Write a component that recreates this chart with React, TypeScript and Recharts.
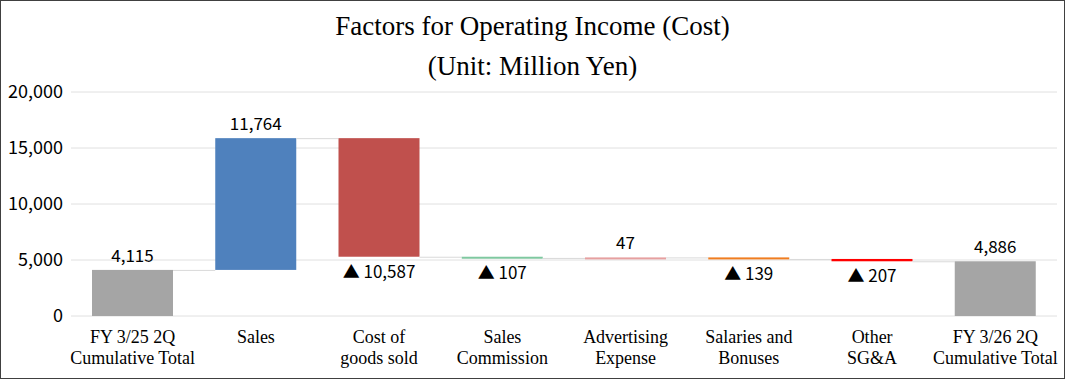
import { Bar, BarChart, CartesianGrid, XAxis, YAxis } from "recharts"

const categories = [
  ["FY 3/25 2Q", "Cumulative Total"],
  ["Sales"],
  ["Cost of", "goods sold"],
  ["Sales", "Commission"],
  ["Advertising", "Expense"],
  ["Salaries and", "Bonuses"],
  ["Other", "SG&A"],
  ["FY 3/26 2Q", "Cumulative Total"],
]
const amounts = [4115, 11764, -10587, -107, 47, -139, -207, 4886]
const isTotal = [true, false, false, false, false, false, false, true]
const barColors = [
  "#A5A5A5",
  "#4F81BD",
  "#C0504D",
  "#7FC8A0",
  "#E6A0A0",
  "#F07D20",
  "#FF0000",
  "#A5A5A5",
]
const yTicks = [0, 5000, 10000, 15000, 20000]

const W = 1063
const H = 377
const margin = { top: 91, right: 7, bottom: 6, left: 8 }
const Y_AXIS_W = 62
const BAND = (W - margin.left - Y_AXIS_W - margin.right) / categories.length

let running = 0
const data = amounts.map((v, i) => {
  let low = 0
  let high = v
  if (isTotal[i]) {
    running = v
  } else {
    const start = running
    running = start + v
    low = Math.min(start, running)
    high = Math.max(start, running)
  }
  return { name: categories[i].join(" "), range: [low, high], amount: v, total: isTotal[i] }
})

const fmt = (n: number) => n.toLocaleString("en-US")

const labelFont = "'Noto Sans CJK JP', 'Liberation Sans', sans-serif"
const serif = "'Liberation Serif', 'Times New Roman', serif"

const WaterfallBar = (props: any) => {
  const { x, y, width, height, index } = props
  const top = Math.min(y, y + height)
  const h = Math.max(Math.abs(height), 2)
  const bottom = top + Math.abs(height)
  const amount = amounts[index]
  const endY = amount >= 0 ? top : bottom
  const last = index === amounts.length - 1
  return (
    <g>
      <rect x={x} y={top} width={width} height={h} fill={barColors[index]} />
      {!last && (
        <line
          x1={x + width}
          x2={x + BAND}
          y1={endY + 0.5}
          y2={endY + 0.5}
          stroke="#D9D9D9"
          strokeWidth={1}
        />
      )}
      {amount >= 0 ? (
        <text
          x={x + width / 2}
          y={top - 8}
          textAnchor="middle"
          fontFamily={labelFont}
          fontSize={17}
          fill="#000"
        >
          {fmt(amount)}
        </text>
      ) : (
        <text
          x={x + width / 2}
          y={bottom + 21}
          textAnchor="middle"
          fontFamily={labelFont}
          fontSize={17}
          fill="#000"
        >
          {"▲ " + fmt(-amount)}
        </text>
      )}
    </g>
  )
}

const CategoryTick = (props: any) => {
  const { x, y, index } = props
  const lines = categories[index] || []
  return (
    <text x={x} y={y} textAnchor="middle" fontFamily={serif} fontSize={18} fill="#000">
      {lines.map((line, i) => (
        <tspan key={i} x={x} dy={i === 0 ? 19 : 21}>
          {line}
        </tspan>
      ))}
    </text>
  )
}

export default function App() {
  return (
    <div
      style={{
        position: "absolute",
        left: 0,
        top: 0,
        width: W,
        height: H,
        border: "1px solid #404040",
        boxSizing: "content-box",
        background: "#fff",
      }}
    >
      <style>{`body{margin:0}`}</style>
      <div
        style={{
          position: "absolute",
          left: 0,
          top: 5,
          width: W,
          textAlign: "center",
          fontFamily: serif,
          fontSize: 27,
          lineHeight: "40px",
          color: "#000",
        }}
      >
        <div>Factors for Operating Income (Cost)</div>
        <div>(Unit: Million Yen)</div>
      </div>
      <BarChart width={W} height={H} data={data} margin={margin} barSize={81}>
        <CartesianGrid vertical={false} stroke="#E0E0E0" />
        <XAxis
          dataKey="name"
          interval={0}
          axisLine={false}
          tickLine={false}
          height={56}
          tick={<CategoryTick />}
        />
        <YAxis
          width={Y_AXIS_W}
          domain={[0, 20000]}
          ticks={yTicks}
          axisLine={false}
          tickLine={false}
          tickSize={0}
          tickMargin={8}
          tickFormatter={fmt}
          tick={{ fontFamily: labelFont, fontSize: 18, fill: "#000" }}
        />
        <Bar dataKey="range" isAnimationActive={false} shape={<WaterfallBar />} />
      </BarChart>
    </div>
  )
}
